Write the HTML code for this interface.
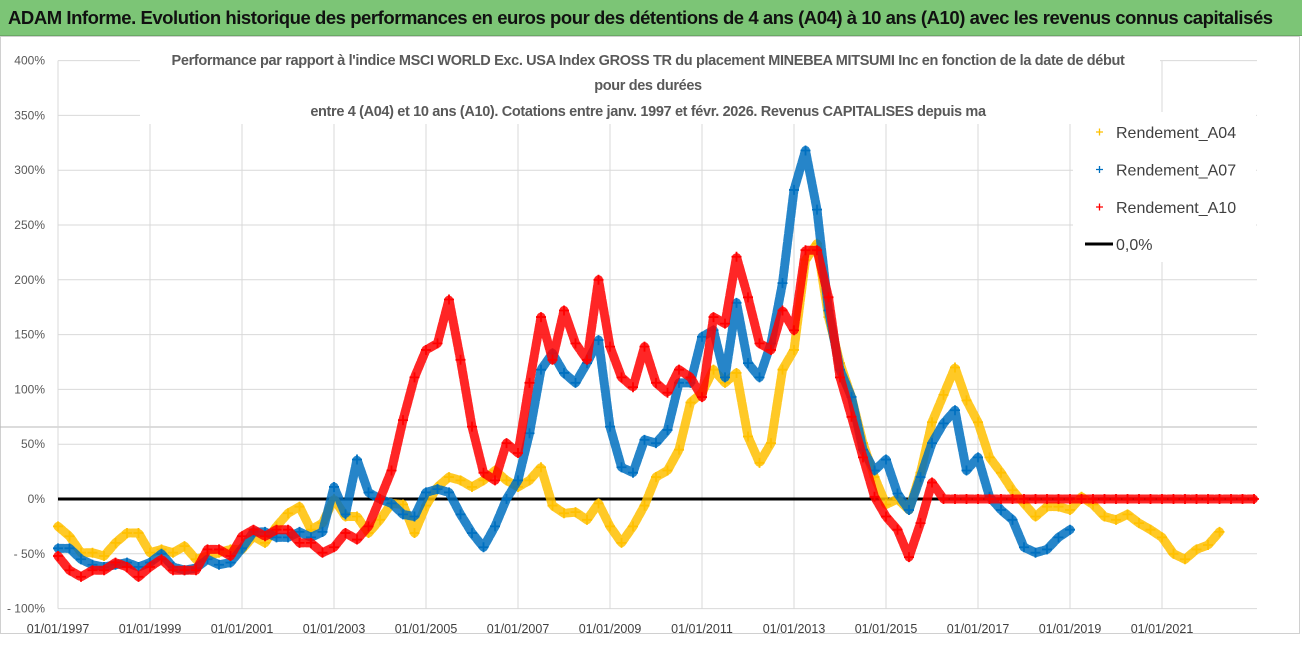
<!DOCTYPE html>
<html><head><meta charset="utf-8">
<style>
html,body{margin:0;padding:0;background:#fff;}
body{width:1302px;height:647px;overflow:hidden;position:relative;font-family:"Liberation Sans",sans-serif;}
#bar{position:absolute;left:0;top:0;width:1302px;height:35px;background:#7cc576;border-bottom:1px solid #6aa865;}
#bar span{position:absolute;left:8px;top:7px;font-size:18.5px;font-weight:bold;color:#111;letter-spacing:-0.45px;white-space:nowrap;}
svg{position:absolute;left:0;top:0;}
</style></head><body>
<div id="bar"><span>ADAM Informe. Evolution historique des performances en euros pour des détentions de 4 ans (A04) à 10 ans (A10) avec les revenus connus capitalisés</span></div>
<svg id="chart" width="1302" height="647"></svg>
<script>
const yTicks=[400,350,300,250,200,150,100,50,0,-50,-100];
const yTickLabels=["400%","350%","300%","250%","200%","150%","100%","50%","0%","- 50%","- 100%"];
const xTickYears=[1997,1999,2001,2003,2005,2007,2009,2011,2013,2015,2017,2019,2021];
const xTickLabels=["01/01/1997","01/01/1999","01/01/2001","01/01/2003","01/01/2005","01/01/2007","01/01/2009","01/01/2011","01/01/2013","01/01/2015","01/01/2017","01/01/2019","01/01/2021"];
const startA04=1997, startA07=1997, startA10=1997, stepYears=0.25;
const valuesA04=[-25,-34,-49,-49,-52,-40,-31,-31,-49,-46,-49,-43,-55,-52,-49,-46,-46,-34,-40,-25,-13,-7,-28,-22,
0,-16,-16,-31,-19,-4,-5,-31,-6,11,20,17,11,17,26,17,11,17,29,-6,-13,-12,-19,-4,-25,-40,-25,-6,
20,26,45,88,97,118,106,115,57,33,51,118,136,218,233,166,124,93,51,20,-5,0,-10,24,
70,95,120,90,70,38,24,8,-4,-16,-7,-7,-10,2,-5,-16,-19,-14,-22,-28,-35,-50,-55,-46,-42,-30];
const valuesA07=[-45,-45,-55,-60,-62,-60,-58,-62,-58,-50,-62,-65,-63,-55,-60,-58,-45,-30,-30,-35,-35,-30,-35,-30,
11,-14,36,6,0,-4,-14,-16,6,9,6,-14,-31,-44,-25,0,17,60,118,133,115,106,124,145,66,29,24,54,
51,63,106,106,148,154,111,179,124,111,142,197,282,318,264,172,118,93,45,26,36,5,-10,20,51,
69,81,26,38,2,-10,-19,-44,-49,-46,-35,-28];
const valuesA10=[-52,-65,-71,-65,-65,-58,-62,-71,-62,-55,-65,-65,-65,-46,-46,-52,-34,-28,-34,-28,-28,-40,-40,-49,
-44,-31,-37,-25,0,26,72,111,136,142,182,127,66,24,17,51,42,106,166,127,172,142,127,200,139,111,102,139,
106,97,118,111,93,166,160,221,184,142,136,172,154,227,227,184,111,75,38,2,-16,-28,-53,-22,15,
0,0,0,0,0,0,0,0,0,0,0,0,0,0,0,0,0,0,0,0,0,0,0,0,0,0,0,0];

const NS="http://www.w3.org/2000/svg";
const svg=document.getElementById('chart');
const X0=58,PX_PER_YEAR=46,Y0=499,PX_PER_PCT=1.096,RIGHT=1257;
function xs(t){return X0+(t-1997)*PX_PER_YEAR;}
function ys(v){return Y0-v*PX_PER_PCT;}
function mk(tag,attrs){const e=document.createElementNS(NS,tag);for(const k in attrs)e.setAttribute(k,attrs[k]);svg.appendChild(e);return e;}

let fr=mk('rect',{x:0.5,y:36.5,width:1299,height:597,fill:'none',stroke:'#d0d0d0','stroke-width':1});



yTicks.forEach((v,i)=>{
  const g=mk('line',{x1:X0,x2:RIGHT,y1:ys(v),y2:ys(v),stroke:'#d9d9d9','stroke-width':1});
  
  
  const t=mk('text',{x:45,y:ys(v)+4,'text-anchor':'end','font-size':12,fill:'#595959'});
  t.textContent=yTickLabels[i];
  
  
});
let gl=mk('line',{x1:0,x2:RIGHT,y1:427,y2:427,stroke:'#b8b8b8','stroke-width':1});


xTickYears.forEach((yr,i)=>{
  const g=mk('line',{x1:xs(yr),x2:xs(yr),y1:ys(400),y2:ys(-100),stroke:'#d9d9d9','stroke-width':1});
  
  
  const t=mk('text',{x:xs(yr),y:633,'text-anchor':'middle','font-size':12.5,fill:'#404040'});
  t.textContent=xTickLabels[i];
  
  
});

const sub=["Performance par rapport à l'indice MSCI WORLD Exc. USA Index GROSS TR  du placement MINEBEA MITSUMI Inc en fonction de la date de début","pour des durées","entre 4 (A04) et 10 ans (A10).  Cotations entre janv. 1997 et févr. 2026. Revenus CAPITALISES depuis ma"];
const subY=[65,90,116];
let bg=mk('rect',{x:140,y:48,width:1020,height:76,fill:'#fff'});


sub.forEach((s,i)=>{
  const t=mk('text',{x:648,y:subY[i],'text-anchor':'middle','font-size':14.5,'font-weight':'bold',fill:'#595959','letter-spacing':'-0.35'});
  t.textContent=s;
  
  
});

function drawSeries(vals,start,color,name){
  const pts=vals.map((v,i)=>[xs(start+i*stepYears),ys(v)]);
  const pl=mk('polyline',{points:pts.map(p=>p.join(',')).join(' '),fill:'none',stroke:color,'stroke-width':9,'stroke-linejoin':'round','stroke-linecap':'round','stroke-opacity':0.85,'stroke-dasharray':'6 2'});
  
  
  pts.forEach(p=>{
    const m=mk('path',{d:`M${p[0]-5},${p[1]}h10M${p[0]},${p[1]-5}v10`,stroke:color,'stroke-width':1.8});
    
    
  });
}
let zl=mk('line',{x1:X0,x2:RIGHT,y1:ys(0),y2:ys(0),stroke:'#000','stroke-width':3});


drawSeries(valuesA04,startA04,'#FFC000','series-a04');
drawSeries(valuesA07,startA07,'#0070C0','series-a07');
drawSeries(valuesA10,startA10,'#FF0000','series-a10');

let lb=mk('rect',{x:1073,y:112,width:183,height:150,fill:'#fff'});


const legNames=["Rendement_A04","Rendement_A07","Rendement_A10"];
const legColors=['#FFC000','#0070C0','#FF0000'];
legNames.forEach((n,i)=>{
  const y=132+i*37.5;
  const m=mk('path',{d:`M${1096},${y}h7M${1099.5},${y-3.5}v7`,stroke:legColors[i],'stroke-width':1.3});
  
  
  const t=mk('text',{x:1116,y:y+6,'font-size':16,fill:'#404040'});
  t.textContent=n;
  
  
});
let ll=mk('line',{x1:1085,x2:1113,y1:244,y2:244,stroke:'#000','stroke-width':3});


let lt=mk('text',{x:1116,y:250,'font-size':16,fill:'#404040'});
lt.textContent="0,0%";


</script>
</body></html>
